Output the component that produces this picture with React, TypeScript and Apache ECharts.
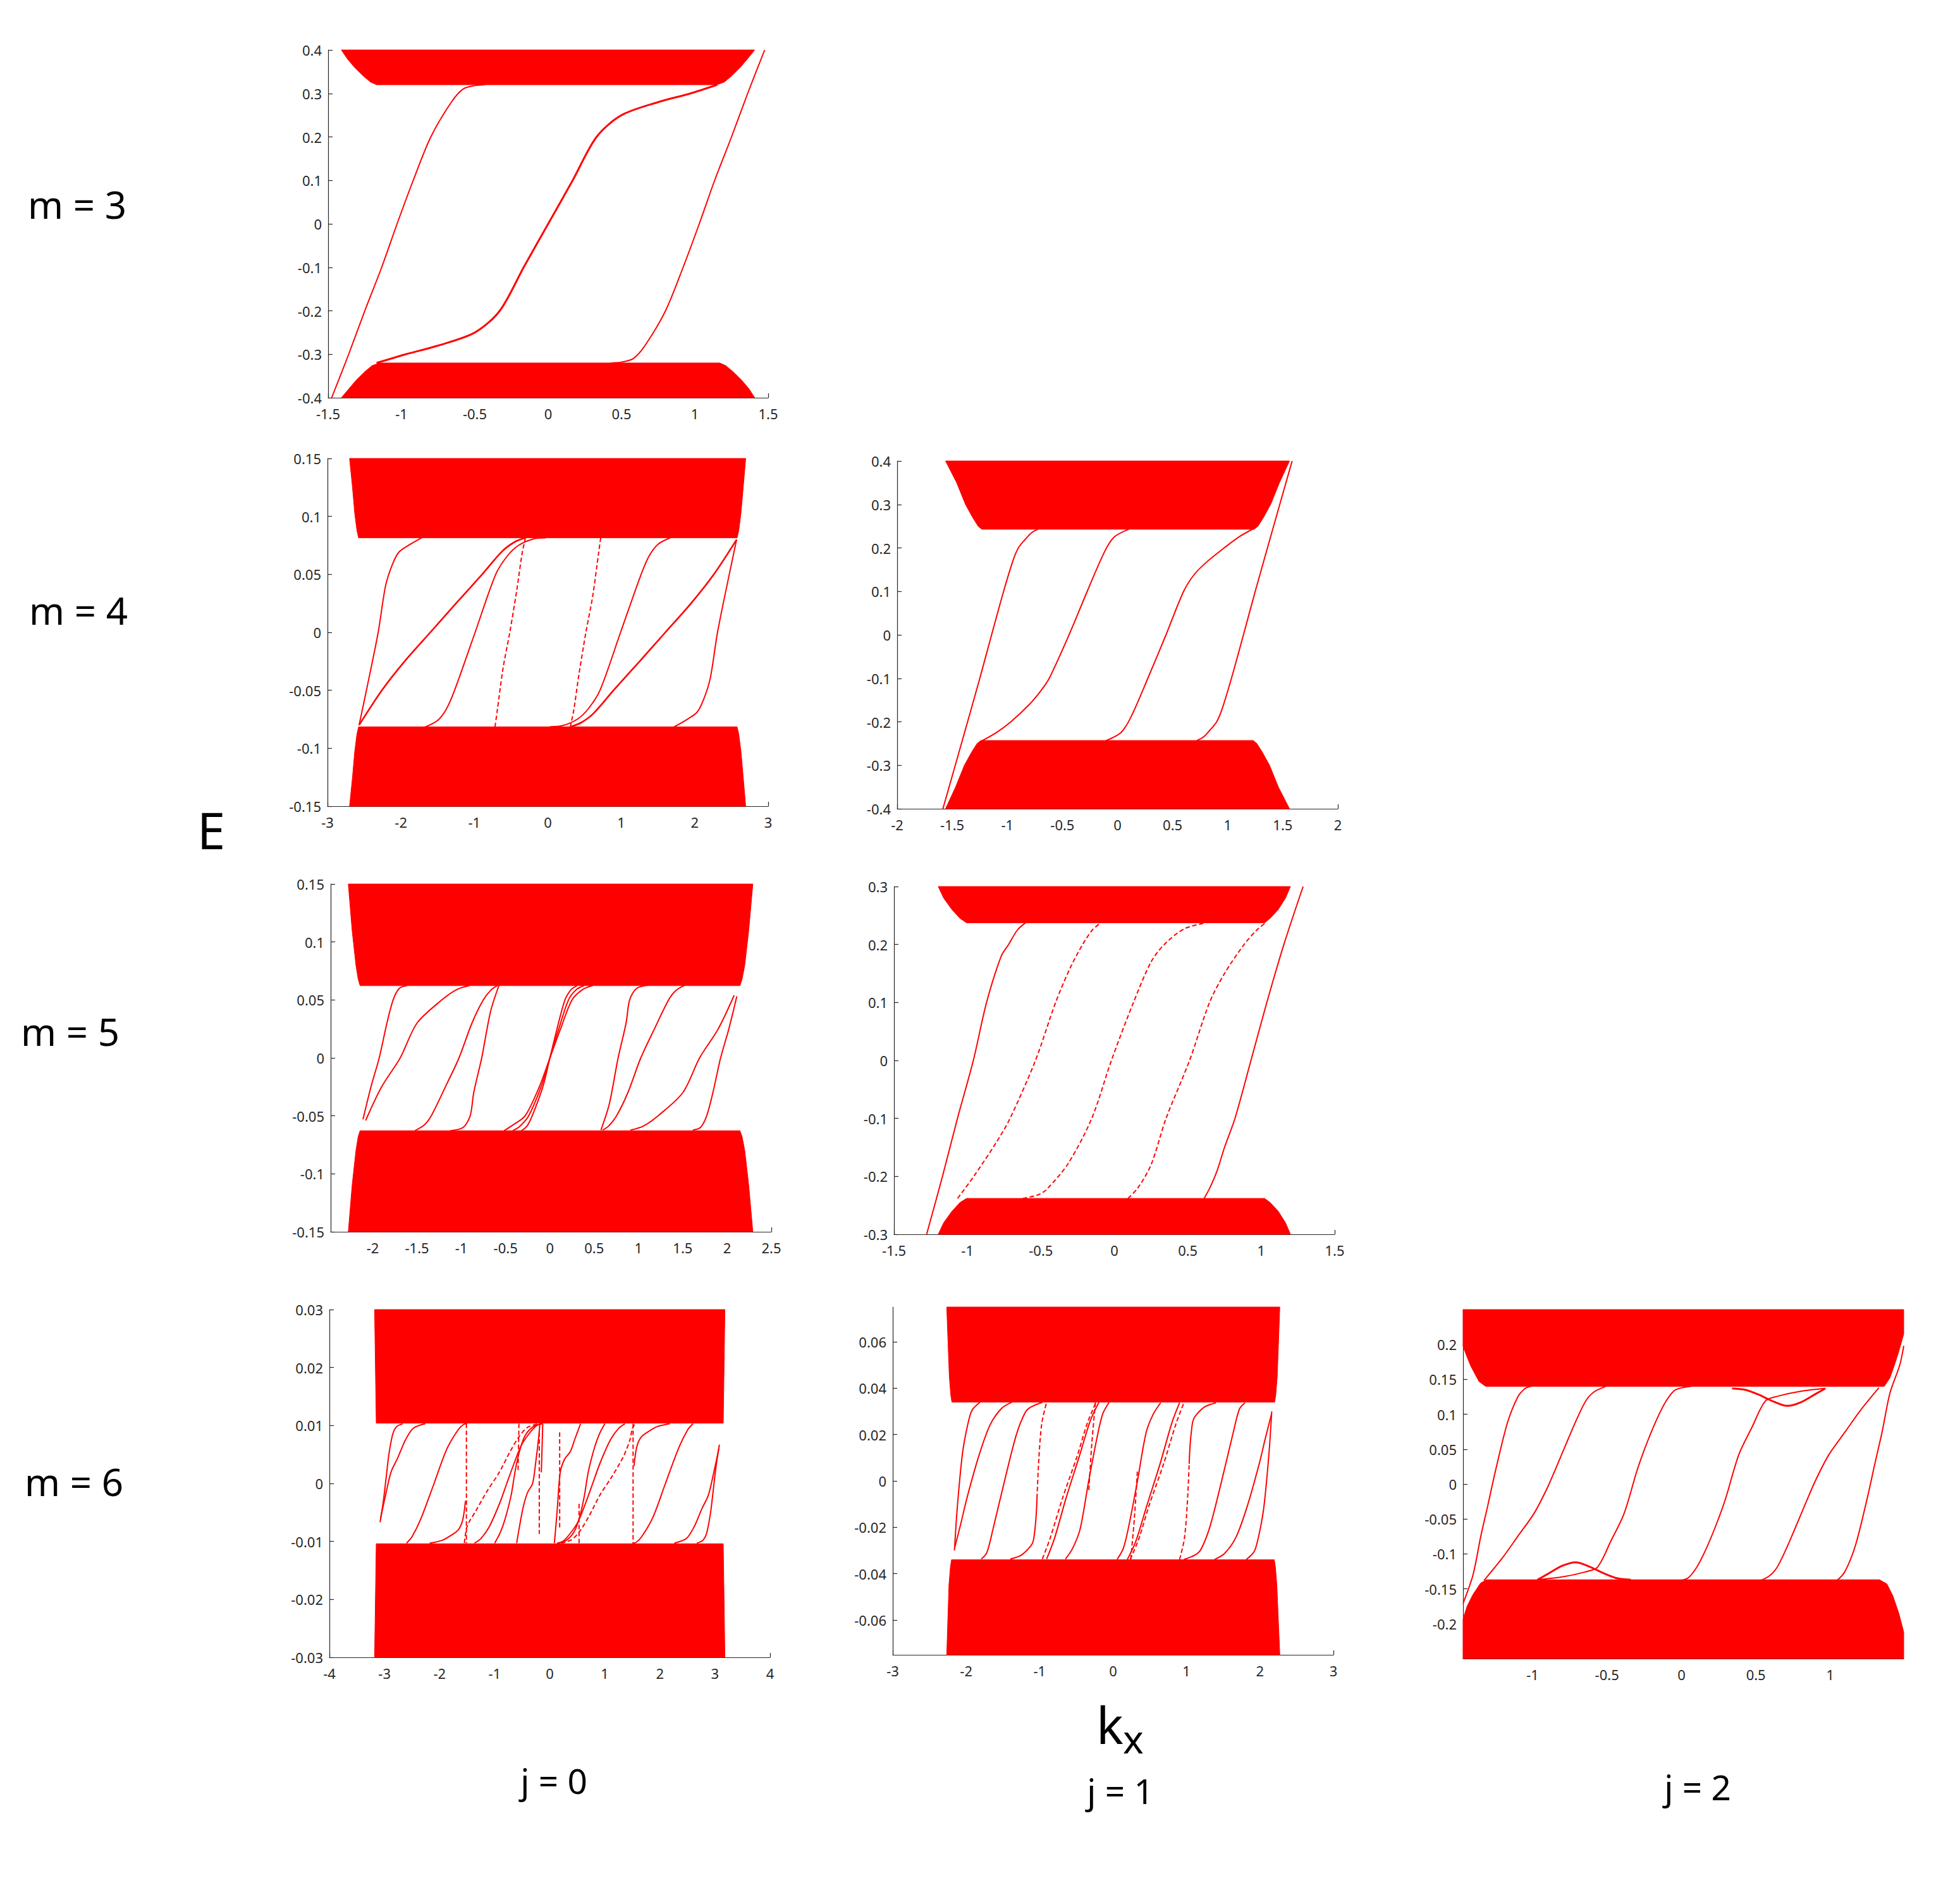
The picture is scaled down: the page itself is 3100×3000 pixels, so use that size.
import React, { useEffect, useRef } from 'react';
import * as echarts from 'echarts';

type Pt = [number, number];

// ---------- tick values ----------
const XT_15 = [-1.5, -1, -0.5, 0, 0.5, 1, 1.5];
const XT_3 = [-3, -2, -1, 0, 1, 2, 3];
const XT_2 = [-2, -1.5, -1, -0.5, 0, 0.5, 1, 1.5, 2];
const XT_D = [-2, -1.5, -1, -0.5, 0, 0.5, 1, 1.5, 2, 2.5];
const XT_4 = [-4, -3, -2, -1, 0, 1, 2, 3, 4];
const XT_H = [-1, -0.5, 0, 0.5, 1];
const YT_04 = [-0.4, -0.3, -0.2, -0.1, 0, 0.1, 0.2, 0.3, 0.4];
const YT_015 = [-0.15, -0.1, -0.05, 0, 0.05, 0.1, 0.15];
const YT_03 = [-0.3, -0.2, -0.1, 0, 0.1, 0.2, 0.3];
const YT_003 = [-0.03, -0.02, -0.01, 0, 0.01, 0.02, 0.03];
const YT_G = [-0.06, -0.04, -0.02, 0, 0.02, 0.04, 0.06];
const YT_H = [-0.2, -0.15, -0.1, -0.05, 0, 0.05, 0.1, 0.15, 0.2];

// ---------- panel A : m = 3, j = 0 ----------
const A_UPPER: Pt[] = [[-1.41, 0.4], [-1.37, 0.38], [-1.32, 0.36], [-1.26, 0.34], [-1.21, 0.326], [-1.17, 0.32], [1.15, 0.32], [1.2, 0.326], [1.25, 0.34], [1.31, 0.36], [1.36, 0.38], [1.408, 0.4]];
const A_LOWER: Pt[] = [[-1.41, -0.4], [-1.36, -0.38], [-1.31, -0.36], [-1.25, -0.34], [-1.2, -0.326], [-1.15, -0.32], [1.17, -0.32], [1.21, -0.326], [1.26, -0.34], [1.32, -0.36], [1.37, -0.38], [1.408, -0.4]];
const A_C1: Pt[] = [[-1.476, -0.4], [-1.36, -0.3], [-1.25, -0.2], [-1.135, -0.1], [-1.03, 0], [-0.92, 0.1], [-0.8, 0.2], [-0.66, 0.28], [-0.58, 0.31], [-0.5, 0.318], [-0.43, 0.32]];
const A_C2: Pt[] = [[-1.17, -0.32], [-0.97, -0.3], [-0.75, -0.28], [-0.5, -0.25], [-0.33, -0.2], [-0.167, -0.1], [0, 0], [0.167, 0.1], [0.33, 0.2], [0.5, 0.25], [0.75, 0.28], [0.97, 0.3], [1.153, 0.32]];
const A_C3: Pt[] = [[0.43, -0.32], [0.5, -0.318], [0.58, -0.31], [0.66, -0.28], [0.8, -0.2], [0.92, -0.1], [1.03, 0], [1.135, 0.1], [1.25, 0.2], [1.36, 0.3], [1.476, 0.4]];

// ---------- panel B : m = 4, j = 0 ----------
const B_UPPER: Pt[] = [[-2.7, 0.15], [-2.66, 0.125], [-2.63, 0.103], [-2.6, 0.088], [-2.577, 0.0815], [2.577, 0.0815], [2.6, 0.088], [2.63, 0.103], [2.66, 0.125], [2.694, 0.15]];
const B_LOWER: Pt[] = [[-2.7, -0.15], [-2.66, -0.125], [-2.63, -0.103], [-2.6, -0.088], [-2.577, -0.0815], [2.577, -0.0815], [2.6, -0.088], [2.63, -0.103], [2.66, -0.125], [2.694, -0.15]];
const B_C1: Pt[] = [[-2.57, -0.08], [-2.47, -0.05], [-2.31, 0], [-2.21, 0.04], [-2.12, 0.058], [-2.03, 0.069], [-1.88, 0.0757], [-1.72, 0.0815]];
const B_C2: Pt[] = [[-2.57, -0.08], [-2.26, -0.05], [-1.95, -0.025], [-1.6, 0], [-1.25, 0.025], [-0.895, 0.05], [-0.62, 0.07], [-0.45, 0.078], [-0.306, 0.0815]];
const B_C3: Pt[] = [[-1.67, -0.0817], [-1.5, -0.076], [-1.38, -0.066], [-1.27, -0.05], [-0.99, 0], [-0.71, 0.05], [-0.55, 0.066], [-0.4, 0.075], [-0.2, 0.0805], [-0.024, 0.0815]];
const B_C4: Pt[] = [[-0.72, -0.0817], [-0.69, -0.068], [-0.61, -0.031], [-0.518, 0], [-0.424, 0.036], [-0.353, 0.067], [-0.306, 0.0815]];
const B_C5: Pt[] = [[2.57, 0.08], [2.47, 0.05], [2.31, 0], [2.21, -0.04], [2.12, -0.058], [2.03, -0.069], [1.88, -0.0757], [1.72, -0.0815]];
const B_C6: Pt[] = [[2.57, 0.08], [2.26, 0.05], [1.95, 0.025], [1.6, 0], [1.25, -0.025], [0.895, -0.05], [0.62, -0.07], [0.45, -0.078], [0.306, -0.0815]];
const B_C7: Pt[] = [[1.67, 0.0817], [1.5, 0.076], [1.38, 0.066], [1.27, 0.05], [0.99, 0], [0.71, -0.05], [0.55, -0.066], [0.4, -0.075], [0.2, -0.0805], [0.024, -0.0815]];
const B_C8: Pt[] = [[0.72, 0.0817], [0.69, 0.068], [0.61, 0.031], [0.518, 0], [0.424, -0.036], [0.353, -0.067], [0.306, -0.0815]];

// ---------- panel C : m = 4, j = 1 ----------
const C_UPPER: Pt[] = [[-1.561, 0.4], [-1.46, 0.35], [-1.38, 0.3], [-1.315, 0.27], [-1.265, 0.25], [-1.232, 0.243], [1.241, 0.243], [1.275, 0.25], [1.325, 0.27], [1.39, 0.3], [1.47, 0.35], [1.561, 0.4]];
const C_LOWER: Pt[] = [[-1.561, -0.4], [-1.47, -0.35], [-1.39, -0.3], [-1.325, -0.27], [-1.275, -0.25], [-1.241, -0.243], [1.232, -0.243], [1.265, -0.25], [1.315, -0.27], [1.38, -0.3], [1.46, -0.35], [1.561, -0.4]];
const C_C1: Pt[] = [[-1.585, -0.4], [-1.41, -0.244], [-1.25, -0.1], [-1.143, 0], [-1.034, 0.1], [-0.95, 0.17], [-0.9, 0.2], [-0.836, 0.22], [-0.78, 0.235], [-0.72, 0.243]];
const C_C2: Pt[] = [[-1.232, -0.244], [-1.1, -0.225], [-0.968, -0.2], [-0.8, -0.16], [-0.7, -0.13], [-0.62, -0.1], [-0.44, 0], [-0.275, 0.1], [-0.12, 0.19], [-0.03, 0.225], [0.104, 0.243]];
const C_C3: Pt[] = [[-0.104, -0.243], [0.03, -0.225], [0.12, -0.19], [0.275, -0.1], [0.44, 0], [0.6, 0.1], [0.7, 0.14], [0.82, 0.17], [0.968, 0.2], [1.1, 0.225], [1.232, 0.244]];
const C_C4: Pt[] = [[0.72, -0.243], [0.78, -0.235], [0.836, -0.22], [0.9, -0.2], [0.95, -0.17], [1.034, -0.1], [1.143, 0], [1.25, 0.1], [1.41, 0.244], [1.585, 0.4]];

// ---------- panel D : m = 5, j = 0 ----------
const D_UPPER: Pt[] = [[-2.276, 0.15], [-2.233, 0.11], [-2.19, 0.08], [-2.165, 0.068], [-2.143, 0.0623], [2.146, 0.0623], [2.17, 0.068], [2.2, 0.08], [2.245, 0.11], [2.291, 0.15]];
const D_LOWER: Pt[] = [[-2.276, -0.15], [-2.233, -0.11], [-2.19, -0.08], [-2.165, -0.068], [-2.143, -0.0628], [2.146, -0.0628], [2.17, -0.068], [2.2, -0.08], [2.245, -0.11], [2.291, -0.15]];
const D_C1: Pt[] = [[-2.11, -0.053], [-2.02, -0.025], [-1.927, 0], [-1.84, 0.03], [-1.77, 0.05], [-1.7, 0.06], [-1.614, 0.0623]];
const D_C2: Pt[] = [[-2.08, -0.054], [-1.9, -0.025], [-1.69, 0], [-1.5, 0.03], [-1.22, 0.05], [-1.05, 0.059], [-0.909, 0.0623]];
const D_C3: Pt[] = [[-1.524, -0.0628], [-1.42, -0.058], [-1.34, -0.05], [-1.18, -0.025], [-1.026, 0], [-0.88, 0.03], [-0.752, 0.05], [-0.66, 0.059], [-0.595, 0.0623]];
const D_C4: Pt[] = [[-1.124, -0.0628], [-0.98, -0.06], [-0.9, -0.05], [-0.86, -0.03], [-0.77, 0], [-0.67, 0.04], [-0.576, 0.0623]];
const D_C5: Pt[] = [[-0.517, -0.0628], [-0.42, -0.058], [-0.28, -0.05], [-0.12, -0.025], [0, 0], [0.12, 0.025], [0.25, 0.05], [0.37, 0.059], [0.482, 0.0623]];
const D_C6: Pt[] = [[-0.419, -0.0628], [-0.34, -0.059], [-0.24, -0.05], [-0.1, -0.025], [0, 0], [0.1, 0.025], [0.21, 0.05], [0.3, 0.059], [0.384, 0.0623]];
const D_C7: Pt[] = [[-0.321, -0.0628], [-0.26, -0.059], [-0.2, -0.05], [-0.08, -0.025], [0, 0], [0.08, 0.025], [0.17, 0.05], [0.24, 0.059], [0.305, 0.0623]];
const D_C8: Pt[] = [[0.576, -0.0623], [0.67, -0.04], [0.77, 0], [0.86, 0.03], [0.9, 0.05], [0.98, 0.06], [1.124, 0.0628]];
const D_C9: Pt[] = [[0.595, -0.0623], [0.66, -0.059], [0.752, -0.05], [0.88, -0.03], [1.026, 0], [1.18, 0.025], [1.34, 0.05], [1.42, 0.058], [1.524, 0.0628]];
const D_C10: Pt[] = [[0.909, -0.0623], [1.05, -0.059], [1.22, -0.05], [1.5, -0.03], [1.69, 0], [1.9, 0.025], [2.08, 0.054]];
const D_C11: Pt[] = [[1.614, -0.0623], [1.7, -0.06], [1.77, -0.05], [1.84, -0.03], [1.927, 0], [2.02, 0.025], [2.11, 0.053]];

// ---------- panel E : m = 5, j = 1 ----------
const E_UPPER: Pt[] = [[-1.199, 0.3], [-1.162, 0.28], [-1.105, 0.26], [-1.05, 0.245], [-1.006, 0.2374], [1.023, 0.2374], [1.06, 0.245], [1.115, 0.26], [1.165, 0.28], [1.199, 0.3]];
const E_LOWER: Pt[] = [[-1.199, -0.3], [-1.162, -0.28], [-1.105, -0.26], [-1.05, -0.245], [-1.006, -0.238], [1.023, -0.238], [1.06, -0.245], [1.115, -0.26], [1.165, -0.28], [1.199, -0.3]];
const E_C1: Pt[] = [[-1.278, -0.3], [-1.17, -0.2], [-1.068, -0.1], [-0.96, 0], [-0.87, 0.1], [-0.77, 0.18], [-0.72, 0.2], [-0.66, 0.225], [-0.605, 0.2374]];
const E_C2: Pt[] = [[-1.067, -0.238], [-0.957, -0.2], [-0.8, -0.14], [-0.71, -0.1], [-0.537, 0], [-0.4, 0.1], [-0.3, 0.16], [-0.216, 0.2], [-0.15, 0.225], [-0.093, 0.2374]];
const E_C3: Pt[] = [[-0.623, -0.238], [-0.52, -0.232], [-0.463, -0.223], [-0.315, -0.178], [-0.154, -0.1], [-0.02, 0], [0.13, 0.1], [0.25, 0.17], [0.34, 0.2], [0.475, 0.227], [0.623, 0.2374]];
const E_C4: Pt[] = [[0.093, -0.238], [0.16, -0.22], [0.25, -0.18], [0.352, -0.1], [0.512, 0], [0.648, 0.1], [0.75, 0.15], [0.883, 0.2], [0.97, 0.225], [1.03, 0.2374]];
const E_C5: Pt[] = [[0.611, -0.238], [0.65, -0.22], [0.7, -0.19], [0.75, -0.15], [0.821, -0.1], [0.93, 0], [1.038, 0.1], [1.154, 0.2], [1.285, 0.3]];

// ---------- panel F : m = 6, j = 0 ----------
const F_UPPER: Pt[] = [[-3.18, 0.03], [-3.15, 0.0104], [3.15, 0.0104], [3.18, 0.03]];
const F_LOWER: Pt[] = [[-3.15, -0.0104], [-3.18, -0.03], [3.18, -0.03], [3.15, -0.0104]];
const F_C1: Pt[] = [[-3.08, -0.0067], [-3.02, -0.003], [-2.97, 0.001], [-2.92, 0.005], [-2.85, 0.0085], [-2.78, 0.0098], [-2.67, 0.0103]];
const F_C2: Pt[] = [[-3.07, -0.006], [-2.98, -0.002], [-2.88, 0.002], [-2.76, 0.0044], [-2.62, 0.0075], [-2.48, 0.0095], [-2.26, 0.0103]];
const F_C3: Pt[] = [[-2.6, -0.0103], [-2.5, -0.0092], [-2.34, -0.0061], [-2.1, 0], [-1.87, 0.0059], [-1.66, 0.0093], [-1.56, 0.0102], [-1.5, 0.0103]];
const F_C4: Pt[] = [[-2.18, -0.0103], [-1.95, -0.0098], [-1.8, -0.009], [-1.66, -0.008], [-1.58, -0.0063], [-1.53, -0.003]];
const F_C5: Pt[] = [[-1.513, 0.0103], [-1.513, -0.0103]];
const F_C6: Pt[] = [[-1.55, -0.0103], [-1.5, -0.0074], [-1.34, -0.0047], [-1.13, -0.0012], [-0.917, 0.0019], [-0.72, 0.0055], [-0.548, 0.0082], [-0.4, 0.0097], [-0.206, 0.0103]];
const F_C7: Pt[] = [[-1.365, -0.0103], [-1.25, -0.0095], [-1.1, -0.0075], [-0.917, -0.0036], [-0.78, 0], [-0.654, 0.0033], [-0.52, 0.0065], [-0.39, 0.0084], [-0.25, 0.0099], [-0.153, 0.0103]];
const F_C8: Pt[] = [[-1.0, -0.0103], [-0.9, -0.0085], [-0.81, -0.0061], [-0.7, -0.002], [-0.627, 0.0022], [-0.55, 0.0055], [-0.45, 0.0082], [-0.3, 0.0098], [-0.13, 0.0103]];
const F_C9: Pt[] = [[-0.6, -0.0103], [-0.56, -0.008], [-0.48, -0.004], [-0.4, -0.0015], [-0.311, 0], [-0.25, 0.004], [-0.2, 0.008], [-0.179, 0.0103]];
const F_C10: Pt[] = [[-0.559, 0.0103], [-0.575, 0.0022]];
const F_C11: Pt[] = [[-0.19, 0.0088], [-0.19, -0.0087]];
const F_C12: Pt[] = [[-0.127, 0.0103], [-0.14, 0.006], [-0.153, 0.0019]];
const F_C13: Pt[] = [[0.18, 0.0088], [0.18, -0.0076]];
const F_C14: Pt[] = [[0.084, -0.0103], [0.11, -0.0075], [0.14, -0.004], [0.19, 0.0019], [0.27, 0.0042], [0.374, 0.0055], [0.45, 0.0075], [0.559, 0.0103]];
const F_C15: Pt[] = [[0.153, -0.0103], [0.25, -0.0099], [0.39, -0.0084], [0.52, -0.0065], [0.654, -0.0033], [0.78, 0], [0.917, 0.0036], [1.1, 0.0075], [1.25, 0.0095], [1.365, 0.0103]];
const F_C16: Pt[] = [[0.532, -0.0103], [0.532, -0.0032]];
const F_C17: Pt[] = [[0.206, -0.0103], [0.4, -0.0097], [0.548, -0.0082], [0.72, -0.0055], [0.917, -0.0019], [1.13, 0.0012], [1.34, 0.0047], [1.455, 0.0075], [1.5, 0.0095], [1.55, 0.0103]];
const F_C18: Pt[] = [[1.513, 0.0103], [1.513, -0.0103]];
const F_C19: Pt[] = [[1.53, 0.003], [1.58, 0.0063], [1.66, 0.008], [1.8, 0.009], [1.95, 0.0098], [2.18, 0.0103]];
const F_C20: Pt[] = [[1.5, -0.0103], [1.56, -0.0102], [1.66, -0.0093], [1.87, -0.0059], [2.1, 0], [2.34, 0.0061], [2.5, 0.0092], [2.6, 0.0103]];
const F_C21: Pt[] = [[2.26, -0.0103], [2.48, -0.0095], [2.62, -0.0075], [2.76, -0.0044], [2.88, -0.002], [2.98, 0.002], [3.07, 0.006]];
const F_C22: Pt[] = [[2.67, -0.0103], [2.78, -0.0098], [2.85, -0.0085], [2.92, -0.005], [2.97, -0.001], [3.02, 0.003], [3.08, 0.0067]];
const F_C23: Pt[] = [[0.13, -0.0103], [0.3, -0.0098], [0.45, -0.0082], [0.55, -0.0055], [0.627, -0.0022], [0.7, 0.002], [0.81, 0.0061], [0.9, 0.0085], [1.0, 0.0103]];

// ---------- panel G : m = 6, j = 1 ----------
const G_UPPER: Pt[] = [[-2.265, 0.075], [-2.23, 0.045], [-2.21, 0.037], [-2.195, 0.034], [2.2, 0.034], [2.215, 0.037], [2.235, 0.045], [2.27, 0.075]];
const G_LOWER: Pt[] = [[-2.265, -0.075], [-2.235, -0.045], [-2.215, -0.037], [-2.2, -0.034], [2.195, -0.034], [2.21, -0.037], [2.23, -0.045], [2.27, -0.075]];
const G_C1: Pt[] = [[-2.16, -0.03], [-2.13, -0.015], [-2.09, 0], [-2.05, 0.012], [-2.01, 0.0196], [-1.95, 0.028], [-1.91, 0.031], [-1.814, 0.0339]];
const G_C2: Pt[] = [[-2.158, -0.029], [-2.07, -0.018], [-1.99, -0.0074], [-1.83, 0.0106], [-1.676, 0.0241], [-1.518, 0.0313], [-1.38, 0.0339]];
const G_C3: Pt[] = [[-1.795, -0.0337], [-1.72, -0.031], [-1.636, -0.0209], [-1.478, 0], [-1.32, 0.0196], [-1.2, 0.0293], [-1.123, 0.0318], [-0.964, 0.0339]];
const G_C4: Pt[] = [[-1.4, -0.0337], [-1.25, -0.032], [-1.12, -0.028], [-1.083, -0.0254], [-1.05, -0.016], [-1.036, -0.0074]];
const G_C4B: Pt[] = [[-1.036, -0.0074], [-1.01, 0.01], [-0.97, 0.025], [-0.905, 0.0339]];
const G_C5: Pt[] = [[-0.964, -0.0337], [-0.86, -0.025], [-0.688, -0.0074], [-0.49, 0.0106], [-0.35, 0.025], [-0.233, 0.0339]];
const G_C6: Pt[] = [[-0.905, -0.0337], [-0.8, -0.025], [-0.64, -0.0074], [-0.46, 0.0106], [-0.31, 0.026], [-0.194, 0.0339]];
const G_C7: Pt[] = [[-0.648, -0.0337], [-0.55, -0.029], [-0.45, -0.0209], [-0.332, 0], [-0.213, 0.0196], [-0.14, 0.029], [-0.055, 0.0339]];
const G_C8: Pt[] = [[-0.24, 0.0339], [-0.29, 0.016], [-0.33, -0.004]];
const G_C9: Pt[] = [[0.055, -0.0339], [0.14, -0.029], [0.213, -0.0196], [0.332, 0], [0.45, 0.0209], [0.55, 0.029], [0.648, 0.0337]];
const G_C10: Pt[] = [[0.194, -0.0339], [0.31, -0.026], [0.46, -0.0106], [0.64, 0.0074], [0.8, 0.025], [0.905, 0.0337]];
const G_C11: Pt[] = [[0.233, -0.0339], [0.35, -0.025], [0.49, -0.0106], [0.688, 0.0074], [0.86, 0.025], [0.964, 0.0337]];
const G_C12: Pt[] = [[0.905, -0.0339], [0.97, -0.025], [1.01, -0.01], [1.036, 0.0074]];
const G_C12B: Pt[] = [[1.036, 0.0074], [1.05, 0.016], [1.083, 0.0254], [1.12, 0.028], [1.25, 0.032], [1.4, 0.0337]];
const G_C13: Pt[] = [[0.964, -0.0339], [1.123, -0.0318], [1.2, -0.0293], [1.32, -0.0196], [1.478, 0], [1.636, 0.0209], [1.72, 0.031], [1.795, 0.0337]];
const G_C14: Pt[] = [[1.38, -0.0339], [1.518, -0.0313], [1.676, -0.0241], [1.83, -0.0106], [1.99, 0.0074], [2.07, 0.018], [2.158, 0.029]];
const G_C15: Pt[] = [[1.814, -0.0339], [1.91, -0.031], [1.95, -0.028], [2.01, -0.0196], [2.05, -0.012], [2.09, 0], [2.13, 0.015], [2.16, 0.03]];
const G_C16: Pt[] = [[0.33, 0.004], [0.29, -0.016], [0.24, -0.0339]];

// ---------- panel H : m = 6, j = 2 ----------
const H_UPPER: Pt[] = [[-1.467, 0.25], [1.493, 0.25], [1.493, 0.215], [1.46, 0.19], [1.43, 0.17], [1.4, 0.152], [1.362, 0.14], [-1.315, 0.14], [-1.36, 0.147], [-1.415, 0.169], [-1.44, 0.182], [-1.467, 0.197]];
const H_LOWER: Pt[] = [[-1.467, -0.25], [1.493, -0.25], [1.493, -0.212], [1.46, -0.185], [1.42, -0.16], [1.38, -0.143], [1.33, -0.137], [-1.31, -0.137], [-1.35, -0.142], [-1.4, -0.158], [-1.44, -0.175], [-1.467, -0.193]];
const H_C1: Pt[] = [[-1.467, -0.171], [-1.4, -0.13], [-1.348, -0.075], [-1.3, -0.03], [-1.247, 0.021], [-1.169, 0.0876], [-1.1, 0.1246], [-1.05, 0.137], [-1.012, 0.14]];
const H_C2: Pt[] = [[-1.326, -0.138], [-1.2, -0.105], [-1.1, -0.075], [-0.99, -0.042], [-0.9, -0.005], [-0.833, 0.028], [-0.76, 0.065], [-0.699, 0.095], [-0.64, 0.12], [-0.587, 0.132], [-0.508, 0.14]];
const H_BUMP1: Pt[] = [[-0.967, -0.137], [-0.9, -0.129], [-0.8, -0.117], [-0.71, -0.112], [-0.62, -0.118], [-0.52, -0.128], [-0.43, -0.135], [-0.34, -0.137]];
const H_C3: Pt[] = [[-0.967, -0.137], [-0.8, -0.133], [-0.65, -0.126], [-0.564, -0.119], [-0.475, -0.082], [-0.385, -0.042], [-0.296, 0.021], [-0.23, 0.06], [-0.161, 0.095], [-0.1, 0.12], [-0.04, 0.135], [0.063, 0.14]];
const H_C4: Pt[] = [[-0.063, -0.14], [0.04, -0.135], [0.1, -0.12], [0.161, -0.095], [0.23, -0.06], [0.296, -0.021], [0.385, 0.042], [0.475, 0.082], [0.564, 0.119], [0.65, 0.126], [0.8, 0.133], [0.967, 0.137]];
const H_BUMP2: Pt[] = [[0.34, 0.137], [0.43, 0.135], [0.52, 0.128], [0.62, 0.118], [0.71, 0.112], [0.8, 0.117], [0.9, 0.129], [0.967, 0.137]];
const H_C5: Pt[] = [[0.508, -0.14], [0.587, -0.132], [0.64, -0.12], [0.699, -0.095], [0.76, -0.065], [0.833, -0.028], [0.9, 0.005], [0.99, 0.042], [1.1, 0.075], [1.2, 0.105], [1.326, 0.138]];
const H_C6: Pt[] = [[1.012, -0.14], [1.05, -0.137], [1.1, -0.1246], [1.169, -0.0876], [1.247, -0.021], [1.3, 0.03], [1.348, 0.075], [1.4, 0.13], [1.467, 0.171], [1.493, 0.198]];

// ---------- labels ----------
const ROW_LABELS = ['m = 3', 'm = 4', 'm = 5', 'm = 6'];
const COL_LABELS = ['j = 0', 'j = 1', 'j = 2'];
const Y_TITLE = 'E';
const X_TITLE_MAIN = 'k';
const X_TITLE_SUB = 'x';

const RED = '#ff0000';
const AXIS = '#262626';
const FONT = '"Noto Sans", "Open Sans", sans-serif';

type Curve = { d: Pt[]; w?: number; dash?: boolean };
type Panel = {
  grid: { left: number; top: number; width: number; height: number };
  x: [number, number];
  xt: number[];
  y: [number, number];
  yt: number[];
  bands: Pt[][];
  curves: Curve[];
};

const PANELS: Panel[] = [
  {
    grid: { left: 519, top: 79, width: 696, height: 550 }, x: [-1.5, 1.5], xt: XT_15, y: [-0.4, 0.4], yt: YT_04,
    bands: [A_UPPER, A_LOWER],
    curves: [{ d: A_C1 }, { d: A_C2, w: 3 }, { d: A_C3 }],
  },
  {
    grid: { left: 518, top: 725, width: 697, height: 550 }, x: [-3, 3], xt: XT_3, y: [-0.15, 0.15], yt: YT_015,
    bands: [B_UPPER, B_LOWER],
    curves: [{ d: B_C1 }, { d: B_C2, w: 2.6 }, { d: B_C3 }, { d: B_C4, dash: true }, { d: B_C5 }, { d: B_C6, w: 2.6 }, { d: B_C7 }, { d: B_C8, dash: true }],
  },
  {
    grid: { left: 1419, top: 729, width: 697, height: 550 }, x: [-2, 2], xt: XT_2, y: [-0.4, 0.4], yt: YT_04,
    bands: [C_UPPER, C_LOWER],
    curves: [{ d: C_C1 }, { d: C_C2 }, { d: C_C3 }, { d: C_C4 }],
  },
  {
    grid: { left: 523, top: 1398, width: 697, height: 550 }, x: [-2.475, 2.5], xt: XT_D, y: [-0.15, 0.15], yt: YT_015,
    bands: [D_UPPER, D_LOWER],
    curves: [{ d: D_C1 }, { d: D_C2 }, { d: D_C3 }, { d: D_C4 }, { d: D_C5 }, { d: D_C6 }, { d: D_C7 }, { d: D_C8 }, { d: D_C9 }, { d: D_C10 }, { d: D_C11 }],
  },
  {
    grid: { left: 1414, top: 1402, width: 697, height: 550 }, x: [-1.5, 1.5], xt: XT_15, y: [-0.3, 0.3], yt: YT_03,
    bands: [E_UPPER, E_LOWER],
    curves: [{ d: E_C1 }, { d: E_C2, dash: true }, { d: E_C3, dash: true }, { d: E_C4, dash: true }, { d: E_C5 }],
  },
  {
    grid: { left: 521, top: 2071, width: 697, height: 550 }, x: [-4, 4], xt: XT_4, y: [-0.03, 0.03], yt: YT_003,
    bands: [F_UPPER, F_LOWER],
    curves: [
      { d: F_C1 }, { d: F_C2 }, { d: F_C3 }, { d: F_C4 }, { d: F_C5, dash: true }, { d: F_C6, dash: true }, { d: F_C7 },
      { d: F_C8 }, { d: F_C9 }, { d: F_C10, dash: true }, { d: F_C11, dash: true }, { d: F_C12 }, { d: F_C13, dash: true },
      { d: F_C14 }, { d: F_C15 }, { d: F_C16, dash: true }, { d: F_C17, dash: true }, { d: F_C18, dash: true }, { d: F_C19 },
      { d: F_C20 }, { d: F_C21 }, { d: F_C22 }, { d: F_C23 },
    ],
  },
  {
    grid: { left: 1412, top: 2067, width: 697, height: 550 }, x: [-3, 3], xt: XT_3, y: [-0.075, 0.075], yt: YT_G,
    bands: [G_UPPER, G_LOWER],
    curves: [
      { d: G_C1 }, { d: G_C2 }, { d: G_C3 }, { d: G_C4 }, { d: G_C4B, dash: true }, { d: G_C5, dash: true }, { d: G_C6 },
      { d: G_C7 }, { d: G_C8, dash: true }, { d: G_C9 }, { d: G_C10 }, { d: G_C11, dash: true }, { d: G_C12, dash: true },
      { d: G_C12B }, { d: G_C13 }, { d: G_C14 }, { d: G_C15 }, { d: G_C16, dash: true },
    ],
  },
  {
    grid: { left: 2314, top: 2071, width: 697, height: 552 }, x: [-1.467, 1.493], xt: XT_H, y: [-0.25, 0.25], yt: YT_H,
    bands: [H_UPPER, H_LOWER],
    curves: [{ d: H_C1 }, { d: H_C2 }, { d: H_BUMP1, w: 3 }, { d: H_C3 }, { d: H_C4 }, { d: H_BUMP2, w: 3 }, { d: H_C5 }, { d: H_C6 }],
  },
];

const fmt = (v: number) => String(Number(Number(v).toFixed(4)));

function textEl(text: string, x: number, y: number, size: number, align: string = 'center') {
  return {
    type: 'text',
    x,
    y,
    silent: true,
    style: {
      text,
      fontSize: size,
      fontFamily: FONT,
      fill: '#000',
      textAlign: align,
      align,
      textVerticalAlign: 'middle',
      verticalAlign: 'middle',
    },
  };
}

function buildOption() {
  const grid: any[] = [];
  const xAxis: any[] = [];
  const yAxis: any[] = [];
  const series: any[] = [];

  PANELS.forEach((p, i) => {
    grid.push({ ...p.grid, containLabel: false, outerBoundsMode: 'none' });
    xAxis.push({
      type: 'value',
      gridIndex: i,
      min: p.x[0],
      max: p.x[1],
      position: 'bottom',
      axisLine: { show: true, onZero: false, lineStyle: { color: AXIS, width: 1.2 } },
      axisTick: { show: true, inside: true, length: 7, customValues: p.xt, lineStyle: { color: AXIS, width: 1.2 } },
      axisLabel: { show: true, customValues: p.xt, formatter: fmt, fontSize: 22, fontFamily: FONT, color: AXIS, margin: 14 },
      splitLine: { show: false },
    });
    yAxis.push({
      type: 'value',
      gridIndex: i,
      min: p.y[0],
      max: p.y[1],
      position: 'left',
      axisLine: { show: true, onZero: false, lineStyle: { color: AXIS, width: 1.2 } },
      axisTick: { show: true, inside: true, length: 7, customValues: p.yt, lineStyle: { color: AXIS, width: 1.2 } },
      axisLabel: { show: true, customValues: p.yt, formatter: fmt, fontSize: 22, fontFamily: FONT, color: AXIS, margin: 10 },
      splitLine: { show: false },
    });
    p.bands.forEach((band) => {
      series.push({
        type: 'custom',
        coordinateSystem: 'cartesian2d',
        xAxisIndex: i,
        yAxisIndex: i,
        data: band,
        silent: true,
        z: 2,
        renderItem: (params: any, api: any) => {
          if (params.dataIndex !== 0) return null;
          return {
            type: 'polygon',
            shape: { points: band.map((pt) => api.coord(pt)) },
            style: { fill: RED, stroke: RED, lineWidth: 1 },
          };
        },
      });
    });
    p.curves.forEach((c) => {
      series.push({
        type: 'line',
        xAxisIndex: i,
        yAxisIndex: i,
        data: c.d,
        showSymbol: false,
        symbol: 'none',
        smooth: 0.3,
        silent: true,
        z: 3,
        lineStyle: { color: RED, width: c.w ?? 2, type: c.dash ? [7, 4] : 'solid' },
      });
    });
  });

  const graphic: any[] = [
    textEl(ROW_LABELS[0], 122, 323, 60),
    textEl(ROW_LABELS[1], 124, 965, 60),
    textEl(ROW_LABELS[2], 111, 1631, 60),
    textEl(ROW_LABELS[3], 117, 2343, 60),
    textEl(Y_TITLE, 334, 1311, 80),
    textEl(X_TITLE_MAIN, 1734, 2726, 80, 'left'),
    textEl(X_TITLE_SUB, 1776, 2749, 62, 'left'),
    textEl(COL_LABELS[0], 876, 2815, 55),
    textEl(COL_LABELS[1], 1772, 2831, 55),
    textEl(COL_LABELS[2], 2685, 2825, 55),
  ];

  return {
    animation: false,
    backgroundColor: '#ffffff',
    grid,
    xAxis,
    yAxis,
    series,
    graphic,
  };
}

export default function App() {
  const ref = useRef<HTMLDivElement>(null);
  useEffect(() => {
    if (!ref.current) return;
    const chart = echarts.init(ref.current, null, { renderer: 'svg' });
    chart.setOption(buildOption() as any);
    return () => chart.dispose();
  }, []);
  return (
    <div
      ref={ref}
      style={{ position: 'absolute', left: 0, top: 0, width: 3100, height: 3000, background: '#ffffff' }}
    />
  );
}
